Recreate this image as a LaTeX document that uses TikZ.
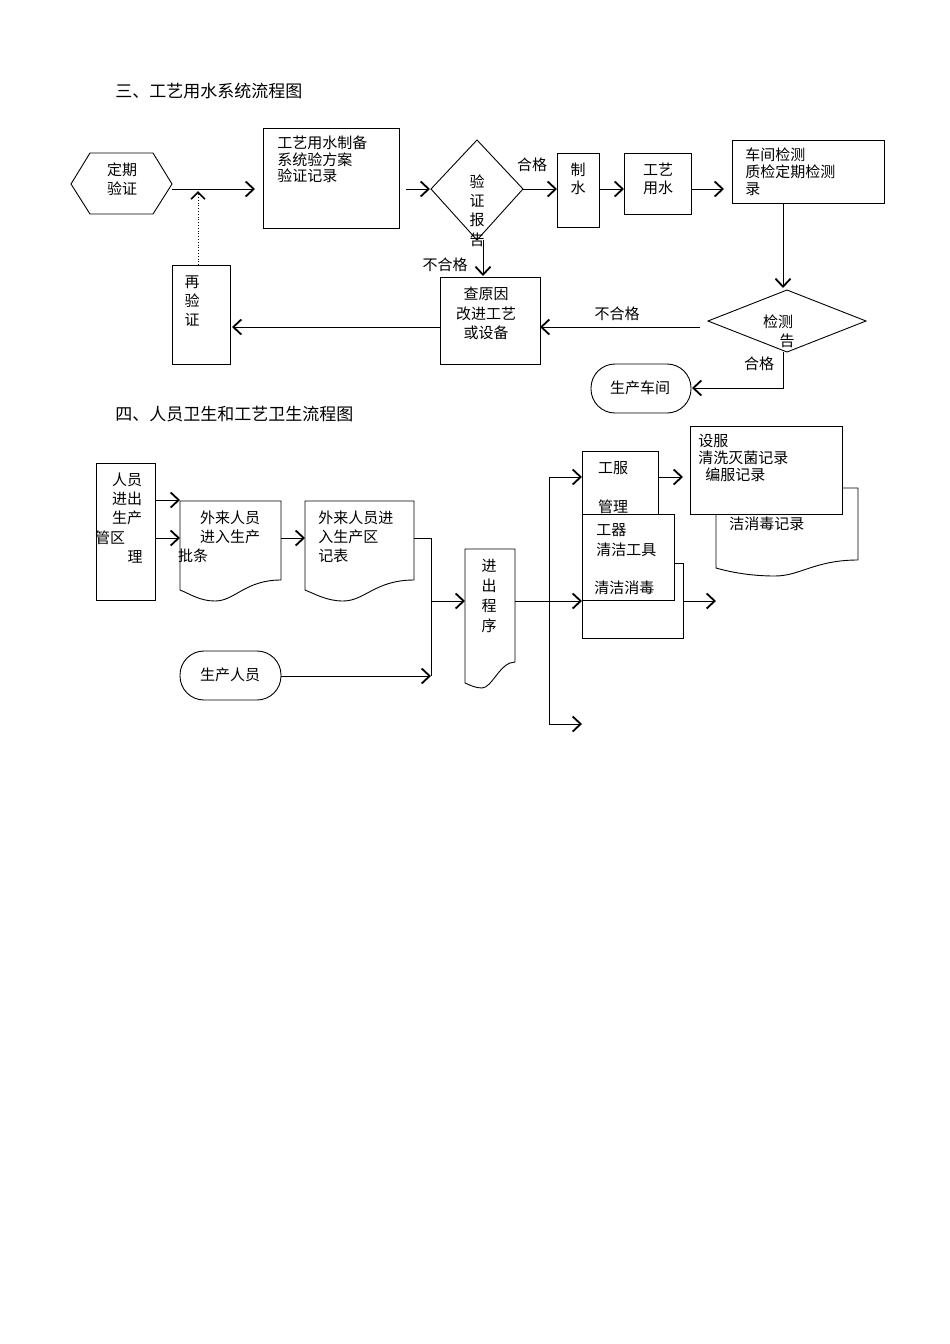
\documentclass[tikz,border=0pt]{standalone}
\usepackage{fontspec}
\setmainfont{Noto Sans CJK SC}
\usetikzlibrary{arrows.meta}
\begin{document}
\begin{tikzpicture}[x=1pt,y=-1pt,line width=0.9pt,
  ar/.style={-{Straight Barb[length=8pt,width=15pt,line width=1.8pt]}},
  t/.style={inner sep=0pt,font=\fontsize{15}{17}\selectfont},
  tl/.style={t,anchor=west},
  bx/.style={draw,fill=white}]
\useasboundingbox[fill=white] (0,0) rectangle (950,1344);
\node[tl,font=\fontsize{17}{19}\selectfont] (title1) at (115,91) {三、工艺用水系统流程图};
\node[tl,font=\fontsize{17}{19}\selectfont] (title2) at (115,414) {四、人员卫生和工艺卫生流程图};
% hexagon
\draw (71,184)--(90,153)--(153,153)--(172,184)--(153,214)--(90,214)--cycle;
\node[t] (dq) at (122,170) {定期};
\node[t] (yz) at (122,189) {验证};
\draw[ar] (172,189)--(255,189);
% box 1
\draw (263,128) rectangle (399,228);
\node[tl] at (277,143) {工艺用水制备};
\node[tl] at (277,160) {系统验方案};
\node[tl] at (277,176) {验证记录};
\draw[ar] (406,189)--(430,189);
% diamond 1
\draw (477,140)--(523,189)--(477,240)--(431,189)--cycle;
\node[t] at (477,182) {验};
\node[t] at (477,201) {证};
\node[t] at (477,220) {报};
\node[t] at (477,240) {告};
\node[t] at (532,165) {合格};
\draw[ar] (523,189)--(557,189);
\draw (557,153) rectangle (599,227);
\node[t] at (578,170) {制};
\node[t] at (578,188) {水};
\draw[ar] (599,189)--(624,189);
\draw (624,153) rectangle (691,214);
\node[t] at (658,170) {工艺};
\node[t] at (658,188) {用水};
\draw[ar] (691,189)--(724,189);
\draw (732,140) rectangle (884,203);
\node[tl] at (745,155) {车间检测};
\node[tl] at (745,172) {质检定期检测};
\node[tl] at (745,189) {录};
\draw[ar] (783,203)--(783,288);
% diamond 2
\draw (787,290)--(866,321)--(787,352)--(708,321)--cycle;
\node[t] at (778,322) {检测};
\node[t] at (787,341) {告};
\draw[ar] (700,327)--(540,327);
\node[t] at (617,314) {不合格};
\draw (440,277) rectangle (540,364);
\node[t] at (486,294) {查原因};
\node[t] at (486,314) {改进工艺};
\node[t] at (486,333) {或设备};
\draw[ar] (440,327)--(232,327);
\draw (172,265) rectangle (230,364);
\node[t] at (192,282) {再};
\node[t] at (192,301) {验};
\node[t] at (192,320) {证};
\draw[-{Straight Barb[length=7pt,width=14pt,line width=1.6pt]},dotted,line width=0.8pt] (198,265)--(198,191);
\draw[ar] (483,240)--(483,276);
\node[t] at (445,265) {不合格};
\draw[ar] (783,352)--(783,388)--(692,388);
\node[t] at (759,364) {合格};
\draw[rounded corners=24pt] (591,364) rectangle (691,413);
\node[t] at (640,388) {生产车间};
% section 2
\draw (96,463) rectangle (155,600);
\node[t] at (127,480) {人员};
\node[t] at (127,499) {进出};
\node[t] at (127,518) {生产};
\node[t] at (110,538) {管区};
\node[t] at (135,557) {理};
\draw[ar] (155,500)--(180,500);
\draw[ar] (155,538)--(180,538);
\draw (180,501)--(281,501)--(281,580) .. controls (245,580) and (235,601) .. (215,601) .. controls (200,601) and (190,594) .. (180,590)--cycle;
\node[t] at (230,518) {外来人员};
\node[t] at (230,537) {进入生产};
\node[t] at (193,556) {批条};
\draw[ar] (281,538)--(305,538);
\draw (305,501)--(414,501)--(414,580) .. controls (375,580) and (365,601) .. (343,601) .. controls (327,601) and (315,594) .. (305,590)--cycle;
\node[tl] at (318,518) {外来人员进};
\node[tl] at (318,537) {入生产区};
\node[tl] at (318,556) {记表};
\draw (414,538)--(431,538)--(431,676);
\draw[ar] (431,601)--(465,601);
\draw[rounded corners=24pt] (180,651) rectangle (281,700);
\node[t] at (230,675) {生产人员};
\draw[ar] (281,676)--(431,676);
\draw (465,549)--(515,549)--(515,662) .. controls (500,662) and (492,688) .. (482,688) .. controls (475,688) and (470,685) .. (465,683)--cycle;
\node[t] at (489,566) {进};
\node[t] at (489,586) {出};
\node[t] at (489,606) {程};
\node[t] at (489,626) {序};
\draw (515,601)--(549,601);
\draw (549,477)--(549,724);
\draw[ar] (549,477)--(582,477);
\draw[ar] (549,601)--(582,601);
\draw[ar] (549,724)--(582,724);
% right column
\draw[fill=white] (716,488)--(858,488)--(858,560) .. controls (815,560) and (800,576) .. (775,576) .. controls (750,576) and (730,572) .. (716,568)--cycle;
\node[tl] at (729,524) {洁消毒记录};
\draw[bx] (690,426) rectangle (842,514);
\node[tl] at (698,441) {设服};
\node[tl] at (698,458) {清洗灭菌记录};
\node[tl] at (705,475) {编服记录};
\draw[bx] (582,451) rectangle (658,520);
\node[t] at (613,468) {工服};
\node[t] at (613,507) {管理};
\draw[ar] (658,477)--(683,477);
\draw[bx] (582,563) rectangle (683,638);
\draw[bx] (582,514) rectangle (674,600);
\node[tl] at (596,530) {工器};
\node[tl] at (596,550) {清洁工具};
\node[tl] at (594,588) {清洁消毒};
\draw[ar] (683,601)--(716,601);
\end{tikzpicture}
\end{document}
